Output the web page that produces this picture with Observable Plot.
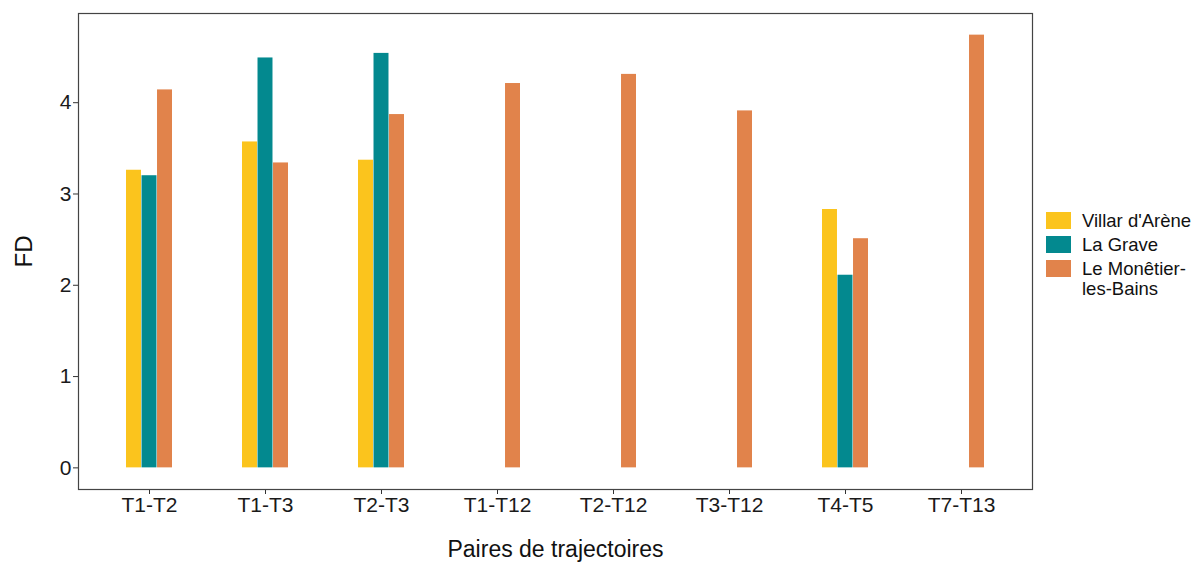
<!DOCTYPE html>
<html><head><meta charset="utf-8">
<script src="https://cdn.jsdelivr.net/npm/d3@7"></script>
<script src="https://cdn.jsdelivr.net/npm/@observablehq/plot@0.6"></script>
<style>
body{margin:0;background:#fff;font-family:"Liberation Sans",Arial,sans-serif}
#wrap{position:relative;width:1204px;height:562px;overflow:hidden}
.key{position:absolute;left:1046px;width:25px;height:17px}
.lab{position:absolute;left:1082px;font-size:18.5px;line-height:20.5px;color:#111;white-space:nowrap}
</style></head><body><div id="wrap"></div>
<script>
const pairs = ["T1-T2","T1-T3","T2-T3","T1-T12","T2-T12","T3-T12","T4-T5","T7-T13"];
const sites = ["Villar d'Arène","La Grave","Le Monêtier-les-Bains"];
const siteLabels = [["Villar d'Arène"],["La Grave"],["Le Monêtier-","les-Bains"]];
const colors = ["#FBC41D","#03898F","#E1834B"];
const villar   = [3.26,3.57,3.37,null,null,null,2.83,null];
const grave    = [3.20,4.49,4.54,null,null,null,2.11,null];
const monetier = [4.14,3.34,3.87,4.21,4.31,3.91,2.51,4.74];
const yTicks = [0,1,2,3,4];

const series = [villar, grave, monetier];
const rows = [];
series.forEach((vals, i) => vals.forEach((v, j) => { if (v != null) rows.push({pair: pairs[j], site: sites[i], fd: v}); }));

const W = 1204, H = 562, ml = 78, mr = 172, mt = 13, mb = 73;
const step = (W - ml - mr) / (pairs.length + 0.2);
const third = 0.4 * step / 3;
const ymax = d3.max(rows, d => d.fd);

const chart = Plot.plot({
  width: W, height: H,
  marginLeft: ml, marginRight: mr, marginTop: mt, marginBottom: mb,
  style: {fontFamily: '"Liberation Sans", Arial, sans-serif', color: "#1a1a1a", background: "#fff"},
  x: {domain: pairs, paddingInner: 0.6, paddingOuter: 0.4, axis: null},
  y: {domain: [-0.05 * ymax, ymax * 1.05], axis: null},
  color: {domain: sites, range: colors},
  marks: [
    ...sites.map((s, i) => Plot.barY(rows.filter(d => d.site === s), {
      x: "pair", y: "fd", fill: "site",
      insetLeft: i * third, insetRight: (2 - i) * third
    })),
    Plot.axisX({tickSize: 5, tickPadding: 3, fontSize: 21, label: null, stroke: "#333"}),
    Plot.axisY({ticks: yTicks, tickFormat: "d", tickSize: 5, tickPadding: 2, fontSize: 21, label: null, stroke: "#333"}),
    Plot.frame({stroke: "#444", strokeWidth: 1.2}),
    Plot.text(["Paires de trajectoires"], {frameAnchor: "bottom", textAnchor: "middle", lineAnchor: "middle", dy: 60, fontSize: 23, fill: "#111"}),
    Plot.text(["FD"], {frameAnchor: "left", textAnchor: "middle", lineAnchor: "middle", dx: -54, rotate: -90, fontSize: 24, fill: "#111"})
  ]
});
const wrap = document.getElementById("wrap");
wrap.appendChild(chart);

const keyTops = [212, 236, 260];
sites.forEach((s, i) => {
  const k = document.createElement("div");
  k.className = "key"; k.style.top = keyTops[i] + "px"; k.style.background = colors[i];
  wrap.appendChild(k);
  const l = document.createElement("div");
  l.className = "lab"; l.style.top = (keyTops[i] - 1.5) + "px";
  l.innerHTML = siteLabels[i].map(t => t.replace(/&/g,"&amp;")).join("<br>");
  wrap.appendChild(l);
});
</script></body></html>
